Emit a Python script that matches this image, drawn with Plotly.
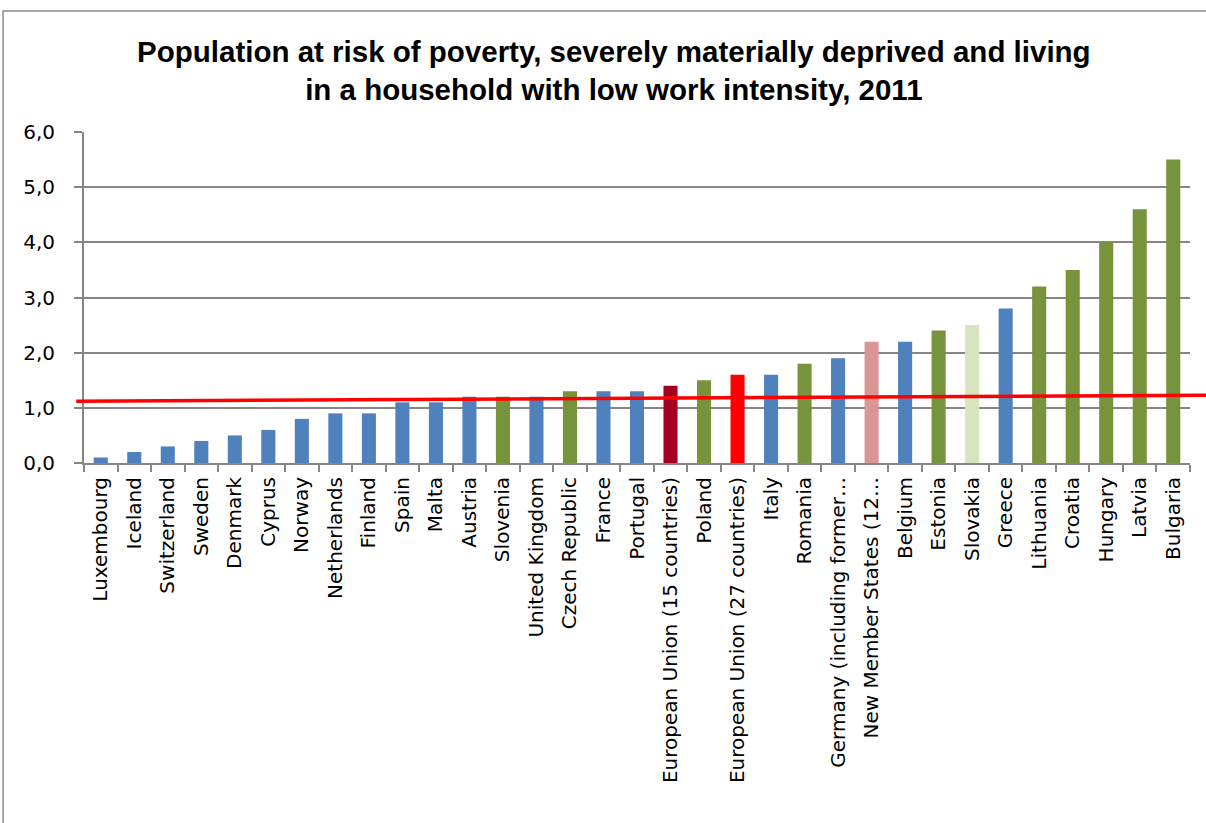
import plotly.graph_objects as go

categories = ["Luxembourg", "Iceland", "Switzerland", "Sweden", "Denmark", "Cyprus", "Norway",
              "Netherlands", "Finland", "Spain", "Malta", "Austria", "Slovenia", "United Kingdom",
              "Czech Republic", "France", "Portugal", "European Union (15 countries)", "Poland",
              "European Union (27 countries)", "Italy", "Romania", "Germany (including former…",
              "New Member States (12…", "Belgium", "Estonia", "Slovakia", "Greece", "Lithuania",
              "Croatia", "Hungary", "Latvia", "Bulgaria"]
values = [0.1, 0.2, 0.3, 0.4, 0.5, 0.6, 0.8, 0.9, 0.9, 1.1, 1.1, 1.2, 1.2, 1.2, 1.3, 1.3, 1.3,
          1.4, 1.5, 1.6, 1.6, 1.8, 1.9, 2.2, 2.2, 2.4, 2.5, 2.8, 3.2, 3.5, 4.0, 4.6, 5.5]
groups = ["b", "b", "b", "b", "b", "b", "b", "b", "b", "b", "b", "b", "g", "b", "g", "b", "b",
          "eu15", "g", "eu27", "b", "g", "b", "nms", "b", "g", "sk", "b", "g", "g", "g", "g", "g"]
group_colors = {"b": "#4F81BD", "g": "#77933C", "eu15": "#A50021", "eu27": "#FF0000",
                "nms": "#D99694", "sk": "#D7E4BD"}
tick_vals = [0, 1, 2, 3, 4, 5, 6]
line_y = [1.12, 1.23]

title_text = ("Population at risk of poverty, severely materially deprived and living"
              "<br>in a household with low work intensity, 2011")

fig = go.Figure()
fig.add_trace(go.Bar(
    x=categories, y=values,
    marker=dict(color=[group_colors[g] for g in groups], line=dict(width=0)),
    width=0.42,
    showlegend=False,
))

fig.add_shape(type="line", xref="paper", yref="y",
              x0=-0.007, x1=1.0145, y0=line_y[0], y1=line_y[1],
              line=dict(color="#FF0000", width=3.5), layer="above")

# outer chart frame
fig.add_shape(type="rect", xref="paper", yref="paper",
              x0=-0.0732, x1=1.2, y0=-2, y1=1.3656,
              line=dict(color="#8C8C8C", width=1.5), layer="below")

fig.update_layout(
    width=1206, height=823,
    margin=dict(l=84, r=16, t=132, b=360, pad=0),
    paper_bgcolor="white", plot_bgcolor="white",
    separators=",.",
    title=dict(text=title_text, x=0.509, xanchor="center", y=0.925, yanchor="middle",
               font=dict(family="Liberation Sans, Arial", size=29.5, color="black", weight="bold")),
    font=dict(family="DejaVu Sans, sans-serif", color="black"),
)
fig.update_xaxes(
    type="category", tickangle=-90, tickfont=dict(size=20, family="DejaVu Sans", color="black"),
    showline=True, linecolor="#868686", linewidth=2,
    ticks="outside", tickson="boundaries", ticklen=7, tickcolor="#868686", tickwidth=2,
    ticklabelstandoff=4,
    showgrid=False, range=[-0.5, len(categories) - 0.5],
)
fig.update_yaxes(
    range=[0, 6], tickvals=tick_vals, tickformat=".1f",
    tickfont=dict(size=20, family="DejaVu Sans", color="black"),
    showgrid=True, gridcolor="#868686", gridwidth=2,
    showline=True, linecolor="#868686", linewidth=2,
    ticks="outside", ticklen=8, tickcolor="#868686", tickwidth=2,
    ticklabelstandoff=15,
    zeroline=False,
)

fig.write_html("out.html")
